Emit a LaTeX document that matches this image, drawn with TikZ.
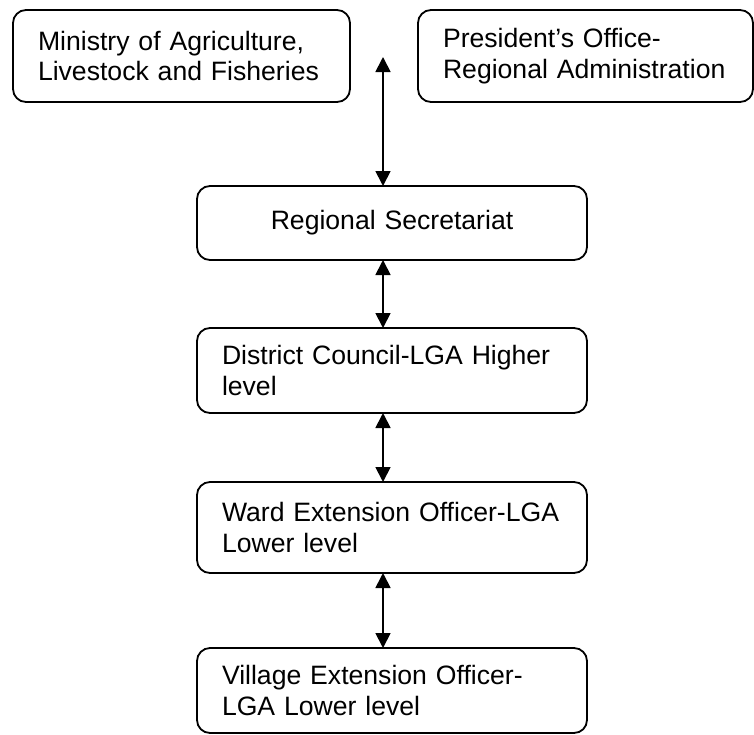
\documentclass[tikz,border=0pt]{standalone}
\usepackage{fontspec}
\setmainfont{Liberation Sans}
\usepackage{tikz}
\usetikzlibrary{positioning, arrows.meta}
\tikzstyle{block} = [rectangle, draw, line width=1.8pt, rounded corners=13pt, inner xsep=25pt, inner ysep=0pt, outer sep=0pt, text width=340pt, align=left, font=\fontsize{26.6pt}{30.6pt}\selectfont]
\tikzstyle{arrow} = [line width=1.8pt, <->, >={Triangle[length=15pt, width=15pt]}]

\begin{document}
\begin{tikzpicture}[node distance=68pt]
    \useasboundingbox (0,0) rectangle (754pt,-734pt);
    \node[block, minimum height=92pt, text width=287pt] (ministry) at (181.5pt,-56pt) {Ministry of Agriculture,\\Livestock and Fisheries};
    \node[block, minimum height=92pt, text width=285pt, right=of ministry] (president) {President's Office-\\Regional Administration};
    \node[block, minimum height=74pt, align=center] (regional) at (392pt,-223pt) {Regional Secretariat};
    \node[block, minimum height=85pt, below=of regional] (district) {District Council-LGA Higher\\level};
    \node[block, minimum height=91pt, below=69pt of district] (ward) {Ward Extension Officer-LGA\\Lower level};
    \node[block, minimum height=85pt, below=75pt of ward] (village) {Village Extension Officer-\\LGA Lower level};
    \coordinate (link) at ([xshift=-9pt, yshift=129pt]regional.north);

    \draw[arrow] (link) -- ([xshift=-9pt]regional.north);
    \draw[arrow] ([xshift=-9pt]regional.south) -- ([xshift=-9pt]district.north);
    \draw[arrow] ([xshift=-9pt]district.south) -- ([xshift=-9pt]ward.north);
    \draw[arrow] ([xshift=-9pt]ward.south) -- ([xshift=-9pt]village.north);
\end{tikzpicture}
\end{document}
